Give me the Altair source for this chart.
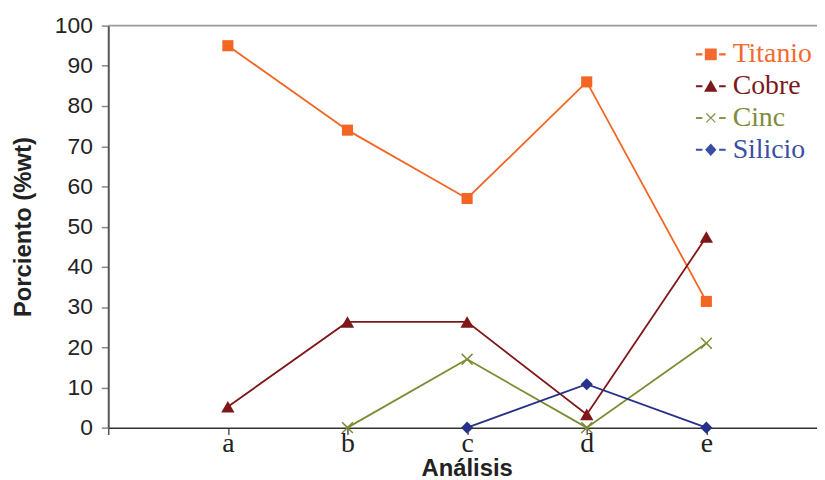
import altair as alt
import pandas as pd

# ---- data ----
categories = ["a", "b", "c", "d", "e"]
series = ["Titanio", "Cobre", "Cinc", "Silicio"]
titanio = [95, 74, 57, 86, 31.4]
cobre = [5.2, 26.3, 26.3, 3.3, 47.4]
cinc = [None, 0, 17, 0, 21]
silicio = [None, None, 0, 10.8, 0]
y_ticks = list(range(0, 101, 10))

line_colors = ["#f26522", "#7f1618", "#7f8a33", "#27318a"]
label_colors = ["#f26a2e", "#7b1a1c", "#808a3a", "#3a4ea3"]
legend_symbol_colors = ["#f26a2e", "#7b1a1c", "#8a9448", "#3a4ea3"]

X_PATH = ("M-1,-0.82L-0.82,-1L0,-0.18L0.82,-1L1,-0.82L0.18,0L1,0.82L0.82,1"
          "L0,0.18L-0.82,1L-1,0.82L-0.18,0Z")
marker_shapes = ["square", "triangle-up", X_PATH, "diamond"]
marker_sizes = [125, 180, 144, 150]

DASHES = "M-1,-0.07H-0.56V0.07H-1ZM0.56,-0.07H1V0.07H0.56Z"
legend_paths = [
    DASHES + "M-0.4,-0.4H0.4V0.4H-0.4Z",
    DASHES + "M-0.45,0.38L0.45,0.38L0,-0.42Z",
    DASHES + ("M-0.33,-0.27L-0.27,-0.33L0,-0.06L0.27,-0.33L0.33,-0.27L0.06,0"
              "L0.33,0.27L0.27,0.33L0,0.06L-0.27,0.33L-0.33,0.27L-0.06,0Z"),
    DASHES + "M-0.38,0L0,-0.42L0.38,0L0,0.42Z",
]

rows = []
for name, vals in zip(series, [titanio, cobre, cinc, silicio]):
    for i, (c, v) in enumerate(zip(categories, vals)):
        if v is not None:
            rows.append({"serie": name, "cat": c, "idx": i + 1, "valor": v})
df = pd.DataFrame(rows)


def switch(values, default, key="value"):
    expr = repr(default)
    for s, v in reversed(list(zip(series, values))):
        expr = f"datum.{key} == '{s}' ? '{v}' : " + expr
    return expr


label_expr = "[''," + ",".join(f"'{c}'" for c in categories) + ",''][datum.value]"

x_enc = alt.X(
    "idx:Q",
    scale=alt.Scale(domain=[0, 5.925], nice=False, zero=False),
    axis=alt.Axis(
        values=[0, 1, 2, 3, 4, 5],
        labelExpr=label_expr,
        title="Análisis",
        grid=False,
        domainColor="#333333",
        domainWidth=1.5,
        tickColor="#555555",
        tickSize=7,
        tickWidth=1.5,
        labelFont="Liberation Serif",
        labelFontSize=28,
        labelColor="#222222",
        labelBaseline="alphabetic",
        labelPadding=17,
        titleFont="Liberation Sans",
        titleFontSize=24,
        titleFontWeight="bold",
        titleColor="#222222",
        titleBaseline="alphabetic",
        titleY=48,
        titleX=361,
    ),
)

y_enc = alt.Y(
    "valor:Q",
    scale=alt.Scale(domain=[0, 100], nice=False),
    axis=alt.Axis(
        values=y_ticks,
        title="Porciento (%wt)",
        grid=False,
        domainColor="#555555",
        domainWidth=2,
        tickColor="#888888",
        tickSize=7,
        tickWidth=1.5,
        labelFont="Liberation Sans",
        labelFontSize=23,
        labelColor="#222222",
        labelPadding=9,
        titleFont="Liberation Sans",
        titleFontSize=24,
        titleFontWeight="bold",
        titleColor="#222222",
        titleBaseline="middle",
        titleX=-85,
        titleY=202.5,
    ),
)

legend = alt.Legend(
    title=None,
    orient="none",
    legendX=592,
    legendY=14,
    padding=0,
    symbolSize=900,
    symbolStrokeWidth=0,
    symbolOpacity=1,
    labelFont="Liberation Serif",
    labelFontSize=28,
    labelColor=alt.ExprRef(switch(label_colors, "#000000", key="label")),
    labelOffset=7,
    rowPadding=3,
    direction="vertical",
)

top_line = alt.Chart(pd.DataFrame({"valor": [100]})).mark_rule(
    color="#9a9a9a", strokeWidth=2
).encode(y=alt.Y("valor:Q"))

series_layers = []
for s, col, shp, sz in zip(series, line_colors, marker_shapes, marker_sizes):
    base = alt.Chart(df).transform_filter(alt.datum.serie == s)
    series_layers.append(
        base.mark_line(strokeWidth=1.8, color=col).encode(x=x_enc, y=y_enc)
    )
    series_layers.append(
        base.mark_point(filled=True, opacity=1, strokeWidth=0, shape=shp, size=sz,
                        color=col).encode(x=x_enc, y=y_enc)
    )

# legend-only layer: draws no marks, provides the series legend
legend_layer = alt.Chart(df).transform_filter("false").mark_point(
    filled=True, opacity=1
).encode(
    x=x_enc,
    y=y_enc,
    fill=alt.Fill("serie:N", scale=alt.Scale(domain=series, range=legend_symbol_colors),
                  legend=legend),
    shape=alt.Shape("serie:N", scale=alt.Scale(domain=series, range=legend_paths),
                    legend=legend),
)

chart = alt.layer(top_line, *series_layers, legend_layer).properties(
    width=714,
    height=405,
    autosize=alt.AutoSizeParams(type="none"),
    padding={"left": 101, "top": 16, "right": 0, "bottom": 52},
).configure_view(stroke=None)

chart.save("out.html", embed_options={"renderer": "svg", "actions": False})
